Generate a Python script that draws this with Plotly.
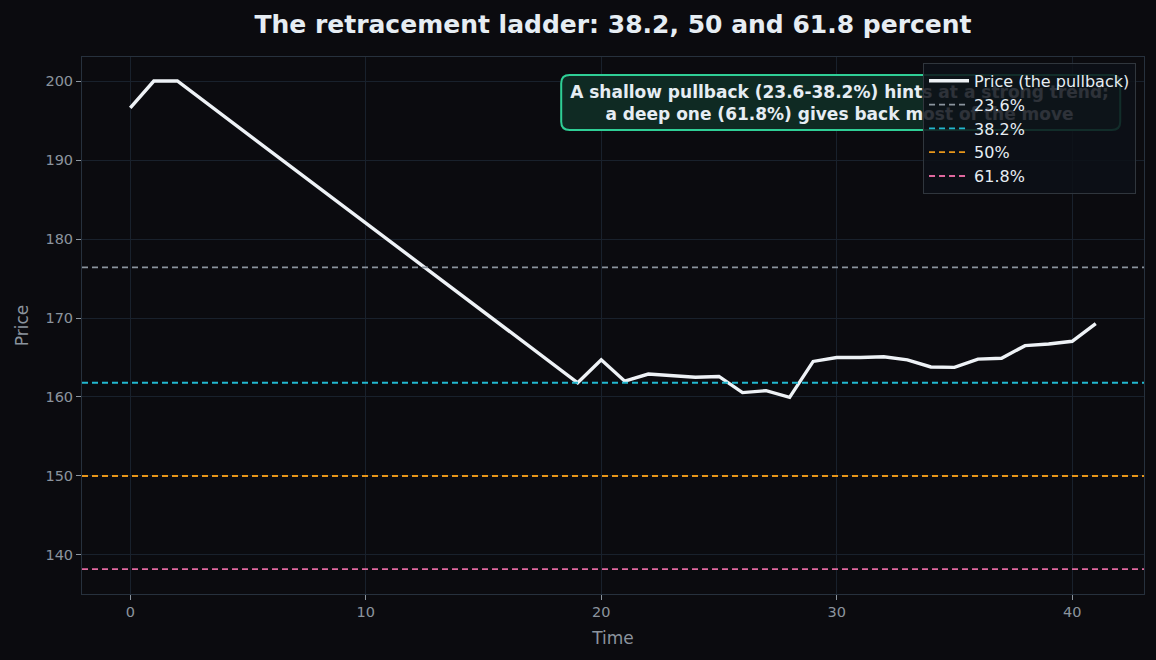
import plotly.graph_objects as go

# ---- data ----
time = list(range(42))
price = [196.6, 200.0, 200.0, 197.75, 195.51, 193.26, 191.01, 188.76, 186.52, 184.27,
         182.02, 179.78, 177.53, 175.28, 173.04, 170.79, 168.54, 166.29, 164.05, 161.8,
         164.7, 162.0, 162.9, 162.65, 162.5, 162.6, 160.56, 160.8, 159.96, 164.5,
         165.0, 165.0, 165.1, 164.7, 163.8, 163.75, 164.8, 164.9, 166.5, 166.7,
         167.05, 169.3]
level_names = ["23.6%", "38.2%", "50%", "61.8%"]
level_values = [176.4, 161.8, 150.0, 138.2]
level_colors = ["#8b949e", "#22b8cf", "#e8961a", "#e0689f"]
note_text = ("<b>A shallow pullback (23.6-38.2%) hints at a strong trend;<br>"
             "a deep one (61.8%) gives back most of the move</b>")

X_RANGE = [-2.05, 43.05]
Y_RANGE = [135.06, 203.04]

BG = "#0b0b0f"
GRID = "#19212c"
SPINE = "#27313d"
TICK = "#8b949e"
TEXT = "#e6edf3"

fig = go.Figure()
fig.add_trace(go.Scatter(x=time, y=price, mode="lines", name="Price (the pullback)",
                         line=dict(color="#eef2f6", width=3.4)))
for n, v, c in zip(level_names, level_values, level_colors):
    fig.add_trace(go.Scatter(x=X_RANGE, y=[v, v], mode="lines", name=n,
                             line=dict(color=c, width=1.8, dash="6px,4px")))

# annotation box (rounded) + text, kept in the plot layer so the legend sits above it
bx0, bx1, by0, by1 = 18.30, 42.04, 193.8, 200.76
rx, ry = 0.36, 1.05
path = (f"M {bx0+rx},{by1} L {bx1-rx},{by1} Q {bx1},{by1} {bx1},{by1-ry} "
        f"L {bx1},{by0+ry} Q {bx1},{by0} {bx1-rx},{by0} L {bx0+rx},{by0} "
        f"Q {bx0},{by0} {bx0},{by0+ry} L {bx0},{by1-ry} Q {bx0},{by1} {bx0+rx},{by1} Z")
fig.add_shape(type="path", path=path, xref="x", yref="y", layer="between",
              fillcolor="#0f2a23", line=dict(color="#2fcf96", width=2))
fig.add_trace(go.Scatter(x=[(bx0 + bx1) / 2 - 0.05], y=[(by0 + by1) / 2 - 0.25], mode="text",
                         text=[note_text], textposition="middle center", showlegend=False,
                         hoverinfo="skip",
                         textfont=dict(family="DejaVu Sans", size=17, color=TEXT)))

fig.update_layout(
    width=1156, height=660,
    paper_bgcolor=BG, plot_bgcolor=BG,
    margin=dict(l=82, r=12, t=57, b=66),
    title=dict(text="<b>The retracement ladder: 38.2, 50 and 61.8 percent</b>",
               xref="paper", x=0.5, xanchor="center", y=0.963, yanchor="middle",
               font=dict(family="DejaVu Sans", size=25, color=TEXT)),
    font=dict(family="DejaVu Sans", color=TICK, size=14.5),
    legend=dict(x=0.9925, y=0.989, xanchor="right", yanchor="top",
                bgcolor="rgba(13,17,23,0.85)", bordercolor="#30363d", borderwidth=1,
                font=dict(color=TEXT, size=16), tracegroupgap=0, itemwidth=40),
    showlegend=True,
)
fig.update_xaxes(range=X_RANGE, tickvals=[0, 10, 20, 30, 40],
                 title=dict(text="Time", font=dict(size=17, color=TICK), standoff=12),
                 showgrid=True, gridcolor=GRID, gridwidth=1, zeroline=False,
                 showline=True, linecolor=SPINE, linewidth=1, mirror=True,
                 ticks="outside", ticklen=5, tickcolor=TICK, tickfont=dict(size=14.5, color=TICK))
fig.update_yaxes(range=Y_RANGE, tickvals=[140, 150, 160, 170, 180, 190, 200],
                 title=dict(text="Price", font=dict(size=17, color=TICK), standoff=12),
                 showgrid=True, gridcolor=GRID, gridwidth=1, zeroline=False,
                 showline=True, linecolor=SPINE, linewidth=1, mirror=True,
                 ticks="outside", ticklen=5, tickcolor=TICK, tickfont=dict(size=14.5, color=TICK))

fig.write_html("out.html")
